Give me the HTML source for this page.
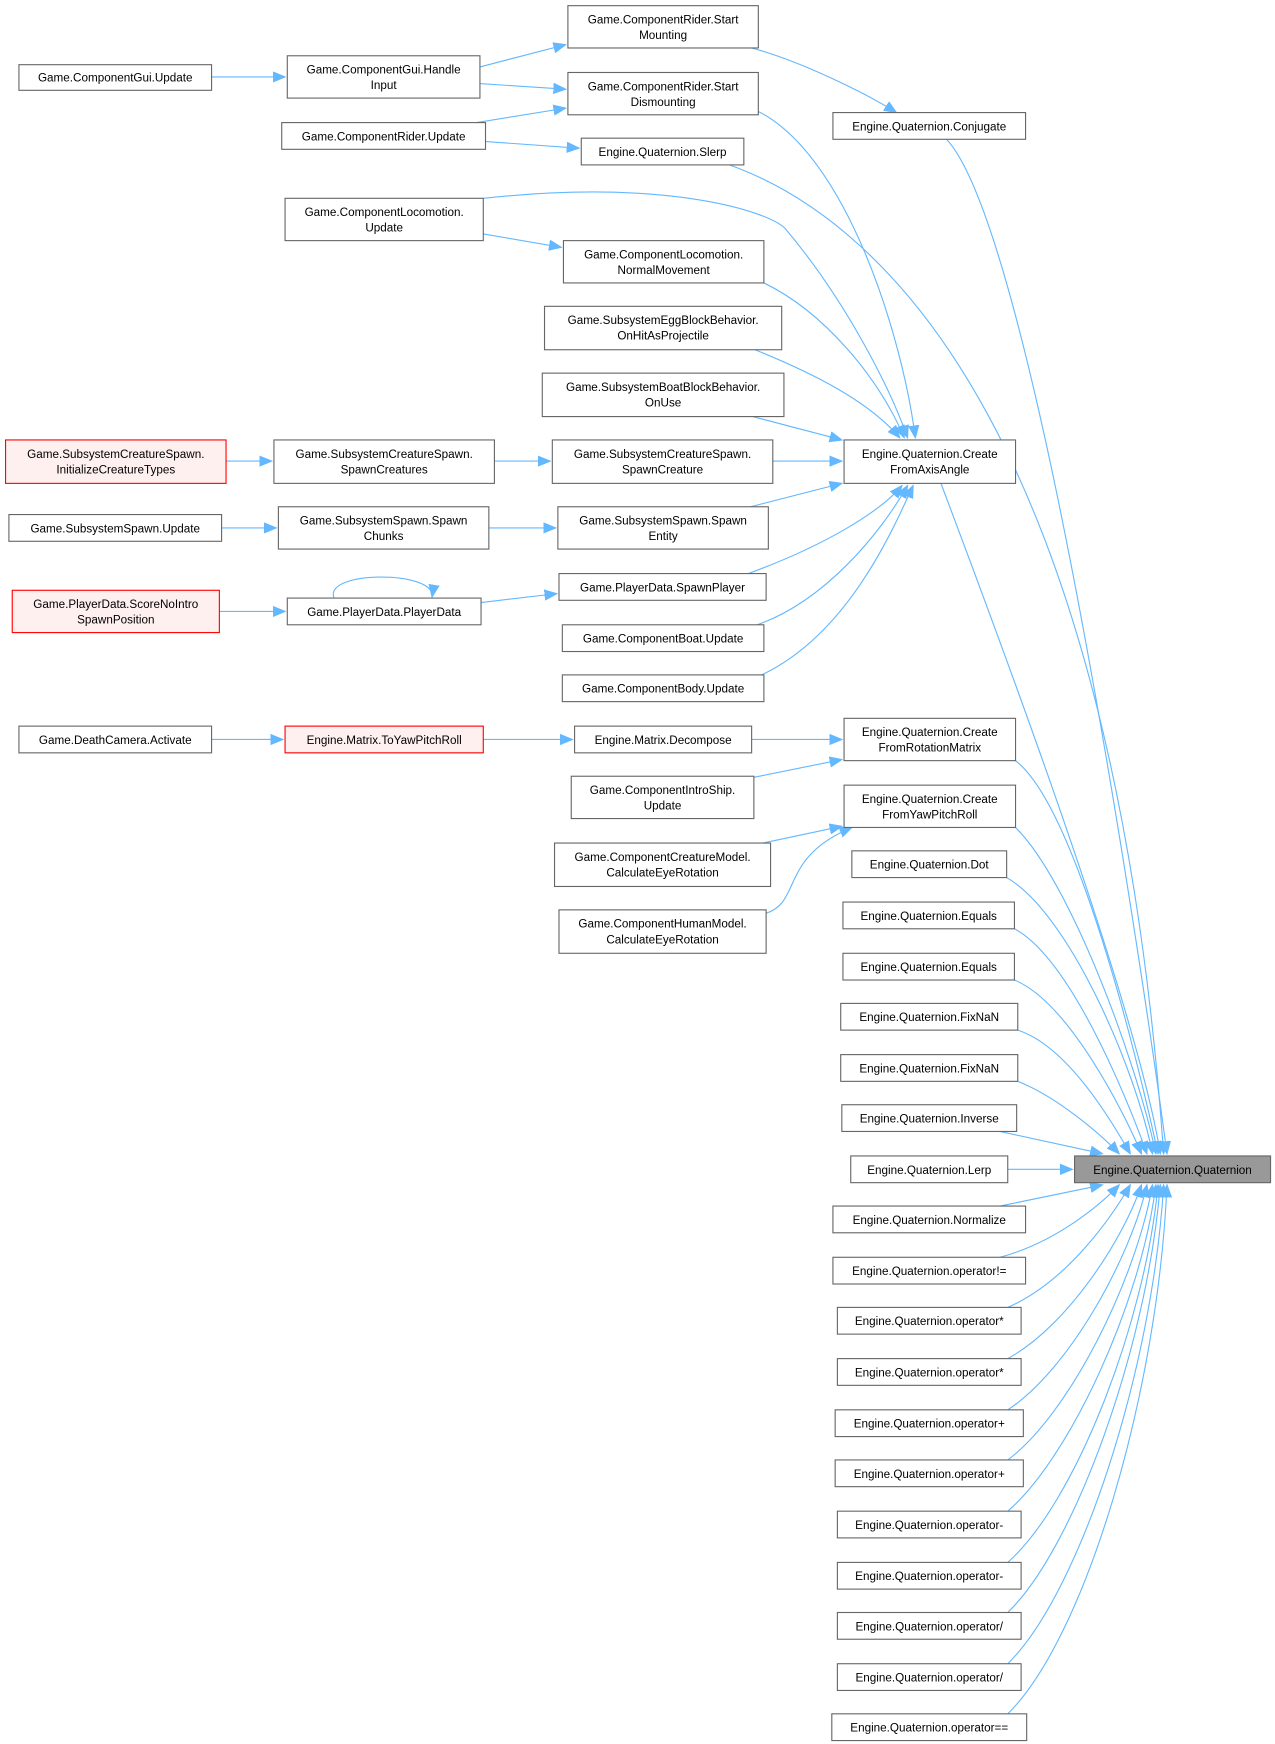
<!DOCTYPE html>
<html><head><meta charset="utf-8"><style>
html,body{margin:0;padding:0;background:#fff;}
svg{display:block;}
text{font-family:"Liberation Sans",sans-serif;font-size:10.5px;fill:#000;text-anchor:middle;}
.n{fill:#fff;stroke:#666;stroke-width:1;}
.r{fill:#fff0f0;stroke:#f00;stroke-width:1;}
.e{fill:none;stroke:#63b8ff;stroke-width:1;marker-end:url(#a);}
</style></head><body>
<svg width="1275" height="1744" viewBox="0 0 1145 1566" xmlns="http://www.w3.org/2000/svg">
<defs><marker id="a" markerUnits="userSpaceOnUse" markerWidth="12" markerHeight="10" refX="11" refY="5" orient="auto"><path d="M0,0.5 L11,5 L0,9.5 z" fill="#63b8ff" stroke="#63b8ff"/></marker></defs>
<g>
<path class="e" d="M190,69 L256,69"/>
<path class="e" d="M431,60 L508,40"/>
<path class="e" d="M431,75 L508,80"/>
<path class="e" d="M428,110 L508,97"/>
<path class="e" d="M436,127 L520,133"/>
<path class="e" d="M675,43 C720,55 780,85 805,101"/>
<path class="e" d="M681,100 C760,140 810,300 822,393"/>
<path class="e" d="M434,178 C600,160 690,190 705,205 C760,270 800,350 815,393"/>
<path class="e" d="M434,210 L504,222"/>
<path class="e" d="M686,254 C740,280 790,340 812,393"/>
<path class="e" d="M678,314 C730,335 780,360 808,393"/>
<path class="e" d="M676,374 L756,395"/>
<path class="e" d="M694,414 L756,414"/>
<path class="e" d="M674,455 L756,434"/>
<path class="e" d="M672,515 C740,490 790,460 810,436"/>
<path class="e" d="M680,561 C740,540 790,480 815,436"/>
<path class="e" d="M684,606 C760,570 800,480 820,436"/>
<path class="e" d="M203,414 L244,414"/>
<path class="e" d="M444,414 L494,414"/>
<path class="e" d="M199,474 L248,474"/>
<path class="e" d="M439,474 L499,474"/>
<path class="e" d="M197,549 L256,549"/>
<path class="e" d="M432,541 L500,533"/>
<path class="e" d="M300,537 C290,512 392,512 388,536"/>
<path class="e" d="M190,664 L254,664"/>
<path class="e" d="M434,664 L514,664"/>
<path class="e" d="M675,664 L756,664"/>
<path class="e" d="M677,698 L756,682"/>
<path class="e" d="M685,757 L756,742"/>
<path class="e" d="M688,820 C720,810 700,770 765,743"/>
<path class="e" d="M850,125 C930,210 1030,900 1048,1036"/>
<path class="e" d="M655,148 C800,200 1000,400 1045,1036"/>
<path class="e" d="M845,434 C900,580 1020,900 1042,1036"/>
<path class="e" d="M912,683 C960,720 1010,900 1040,1036"/>
<path class="e" d="M912,743 C960,790 1020,950 1038,1036"/>
<path class="e" d="M904,788 C960,820 1020,960 1035,1036"/>
<path class="e" d="M911,834 C960,860 1010,980 1030,1036"/>
<path class="e" d="M911,880 C960,900 1010,1000 1025,1036"/>
<path class="e" d="M914,925 C960,940 1000,1010 1015,1036"/>
<path class="e" d="M914,971 C950,985 990,1020 1005,1036"/>
<path class="e" d="M898,1016 L990,1036"/>
<path class="e" d="M905,1050 L963,1050"/>
<path class="e" d="M898,1083 L990,1064"/>
<path class="e" d="M898,1129 C950,1115 990,1080 1005,1064"/>
<path class="e" d="M905,1174 C960,1150 1000,1090 1015,1064"/>
<path class="e" d="M905,1220 C960,1190 1010,1110 1025,1064"/>
<path class="e" d="M905,1266 C960,1230 1015,1130 1030,1064"/>
<path class="e" d="M905,1311 C960,1270 1020,1150 1035,1064"/>
<path class="e" d="M905,1357 C960,1310 1025,1170 1038,1064"/>
<path class="e" d="M905,1403 C965,1350 1028,1190 1040,1064"/>
<path class="e" d="M905,1448 C965,1390 1030,1210 1042,1064"/>
<path class="e" d="M905,1494 C970,1430 1035,1230 1045,1064"/>
<path class="e" d="M905,1539 C975,1470 1040,1250 1048,1064"/>
</g>
<g>
<rect class="n" x="17" y="58" width="173" height="23"/><text x="103.5" y="73">Game.ComponentGui.Update</text>
<rect class="n" x="258" y="50" width="173" height="38"/><text x="344.5" y="66">Game.ComponentGui.Handle</text><text x="344.5" y="80">Input</text>
<rect class="n" x="510" y="5" width="171" height="38"/><text x="595.5" y="21">Game.ComponentRider.Start</text><text x="595.5" y="35">Mounting</text>
<rect class="n" x="510" y="65" width="171" height="38"/><text x="595.5" y="81">Game.ComponentRider.Start</text><text x="595.5" y="95">Dismounting</text>
<rect class="n" x="253" y="110" width="183" height="24"/><text x="344.5" y="126">Game.ComponentRider.Update</text>
<rect class="n" x="522" y="124" width="146" height="24"/><text x="595" y="140">Engine.Quaternion.Slerp</text>
<rect class="n" x="748" y="101" width="173" height="24"/><text x="834.5" y="117">Engine.Quaternion.Conjugate</text>
<rect class="n" x="256" y="178" width="178" height="38"/><text x="345" y="194">Game.ComponentLocomotion.</text><text x="345" y="208">Update</text>
<rect class="n" x="506" y="216" width="180" height="38"/><text x="596" y="232">Game.ComponentLocomotion.</text><text x="596" y="246">NormalMovement</text>
<rect class="n" x="489" y="275" width="213" height="39"/><text x="595.5" y="291">Game.SubsystemEggBlockBehavior.</text><text x="595.5" y="305">OnHitAsProjectile</text>
<rect class="n" x="487" y="335" width="217" height="39"/><text x="595.5" y="351">Game.SubsystemBoatBlockBehavior.</text><text x="595.5" y="365">OnUse</text>
<rect class="n" x="758" y="395" width="154" height="39"/><text x="835" y="411">Engine.Quaternion.Create</text><text x="835" y="425">FromAxisAngle</text>
<rect class="r" x="5" y="395" width="198" height="39"/><text x="104" y="411">Game.SubsystemCreatureSpawn.</text><text x="104" y="425">InitializeCreatureTypes</text>
<rect class="n" x="246" y="395" width="198" height="39"/><text x="345" y="411">Game.SubsystemCreatureSpawn.</text><text x="345" y="425">SpawnCreatures</text>
<rect class="n" x="496" y="395" width="198" height="39"/><text x="595" y="411">Game.SubsystemCreatureSpawn.</text><text x="595" y="425">SpawnCreature</text>
<rect class="n" x="8" y="462" width="191" height="24"/><text x="103.5" y="478">Game.SubsystemSpawn.Update</text>
<rect class="n" x="250" y="455" width="189" height="38"/><text x="344.5" y="471">Game.SubsystemSpawn.Spawn</text><text x="344.5" y="485">Chunks</text>
<rect class="n" x="501" y="455" width="189" height="38"/><text x="595.5" y="471">Game.SubsystemSpawn.Spawn</text><text x="595.5" y="485">Entity</text>
<rect class="n" x="502" y="515" width="186" height="24"/><text x="595" y="531">Game.PlayerData.SpawnPlayer</text>
<rect class="r" x="11" y="530" width="186" height="38"/><text x="104" y="546">Game.PlayerData.ScoreNoIntro</text><text x="104" y="560">SpawnPosition</text>
<rect class="n" x="258" y="537" width="174" height="24"/><text x="345" y="553">Game.PlayerData.PlayerData</text>
<rect class="n" x="505" y="561" width="181" height="24"/><text x="595.5" y="577">Game.ComponentBoat.Update</text>
<rect class="n" x="505" y="606" width="181" height="24"/><text x="595.5" y="622">Game.ComponentBody.Update</text>
<rect class="n" x="17" y="652" width="173" height="24"/><text x="103.5" y="668">Game.DeathCamera.Activate</text>
<rect class="r" x="256" y="652" width="178" height="24"/><text x="345" y="668">Engine.Matrix.ToYawPitchRoll</text>
<rect class="n" x="516" y="652" width="159" height="24"/><text x="595.5" y="668">Engine.Matrix.Decompose</text>
<rect class="n" x="758" y="645" width="154" height="38"/><text x="835" y="661">Engine.Quaternion.Create</text><text x="835" y="675">FromRotationMatrix</text>
<rect class="n" x="513" y="697" width="164" height="38"/><text x="595" y="713">Game.ComponentIntroShip.</text><text x="595" y="727">Update</text>
<rect class="n" x="758" y="705" width="154" height="38"/><text x="835" y="721">Engine.Quaternion.Create</text><text x="835" y="735">FromYawPitchRoll</text>
<rect class="n" x="498" y="757" width="194" height="39"/><text x="595" y="773">Game.ComponentCreatureModel.</text><text x="595" y="787">CalculateEyeRotation</text>
<rect class="n" x="502" y="817" width="186" height="39"/><text x="595" y="833">Game.ComponentHumanModel.</text><text x="595" y="847">CalculateEyeRotation</text>
<rect class="n" x="765" y="764" width="139" height="24"/><text x="834.5" y="780">Engine.Quaternion.Dot</text>
<rect class="n" x="757" y="810" width="154" height="24"/><text x="834" y="826">Engine.Quaternion.Equals</text>
<rect class="n" x="757" y="856" width="154" height="24"/><text x="834" y="872">Engine.Quaternion.Equals</text>
<rect class="n" x="755" y="901" width="159" height="24"/><text x="834.5" y="917">Engine.Quaternion.FixNaN</text>
<rect class="n" x="755" y="947" width="159" height="24"/><text x="834.5" y="963">Engine.Quaternion.FixNaN</text>
<rect class="n" x="756" y="992" width="157" height="24"/><text x="834.5" y="1008">Engine.Quaternion.Inverse</text>
<rect class="n" x="764" y="1038" width="141" height="24"/><text x="834.5" y="1054">Engine.Quaternion.Lerp</text>
<rect class="n" x="748" y="1083" width="173" height="24"/><text x="834.5" y="1099">Engine.Quaternion.Normalize</text>
<rect class="n" x="748" y="1129" width="173" height="24"/><text x="834.5" y="1145">Engine.Quaternion.operator!=</text>
<rect class="n" x="752" y="1174" width="165" height="24"/><text x="834.5" y="1190">Engine.Quaternion.operator*</text>
<rect class="n" x="752" y="1220" width="165" height="24"/><text x="834.5" y="1236">Engine.Quaternion.operator*</text>
<rect class="n" x="750" y="1266" width="169" height="24"/><text x="834.5" y="1282">Engine.Quaternion.operator+</text>
<rect class="n" x="750" y="1311" width="169" height="24"/><text x="834.5" y="1327">Engine.Quaternion.operator+</text>
<rect class="n" x="752" y="1357" width="165" height="24"/><text x="834.5" y="1373">Engine.Quaternion.operator-</text>
<rect class="n" x="752" y="1403" width="165" height="24"/><text x="834.5" y="1419">Engine.Quaternion.operator-</text>
<rect class="n" x="752" y="1448" width="165" height="24"/><text x="834.5" y="1464">Engine.Quaternion.operator/</text>
<rect class="n" x="752" y="1494" width="165" height="24"/><text x="834.5" y="1510">Engine.Quaternion.operator/</text>
<rect class="n" x="747" y="1539" width="175" height="24"/><text x="834.5" y="1555">Engine.Quaternion.operator==</text>
<rect x="965" y="1038" width="176" height="24" fill="#999" stroke="#666"/><text x="1053" y="1054">Engine.Quaternion.Quaternion</text>
</g>
</svg>
</body></html>
